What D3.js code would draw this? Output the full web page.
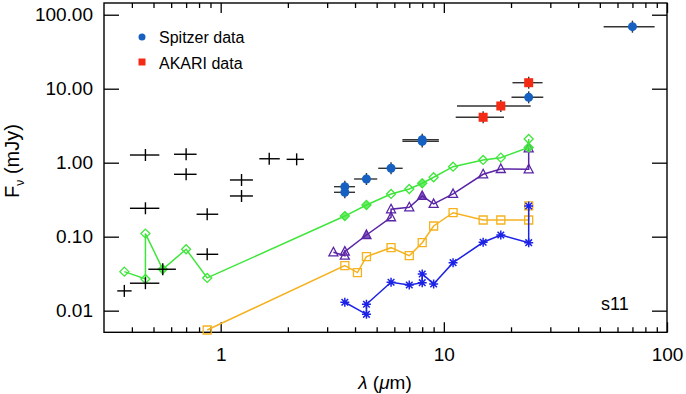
<!DOCTYPE html>
<html>
<head>
<meta charset="utf-8">
<script src="https://cdn.jsdelivr.net/npm/d3@7"></script>
<style>
  body { margin: 0; background: #fff; }
  svg { display: block; font-family: "Liberation Sans", Arial, Helvetica, sans-serif; }
</style>
</head>
<body>
<svg width="686" height="394"></svg>
<script>
// optical / near-IR photometry (black crosses)
var optWave = [0.46, 0.70, 0.70, 0.46, 1.24, 1.24, 0.87, 0.87, 1.65, 2.19, 0.46, 0.55, 0.37];
var optFlux = [1.27, 1.30, 0.697, 0.242, 0.584, 0.355, 0.201, 0.0578, 1.13, 1.11, 0.0235, 0.0363, 0.0185];
var optLo   = [0.392, 0.618, 0.618, 0.392, 1.10, 1.10, 0.78, 0.78, 1.49, 1.975, 0.392, 0.474, 0.344];
var optHi   = [0.531, 0.78, 0.78, 0.531, 1.395, 1.395, 0.975, 0.975, 1.84, 2.36, 0.531, 0.63, 0.399];

// Spitzer
var spWave = [3.6, 3.6, 4.5, 5.8, 8.0, 8.0, 24, 70];
var spFlux = [0.474, 0.398, 0.602, 0.84, 1.94, 2.04, 7.65, 68.9];
var spLo   = [3.22, 3.22, 3.96, 5.08, 6.52, 6.52, 20.1, 52];
var spHi   = [4.0, 4.0, 5.03, 6.54, 9.5, 9.5, 27.9, 88];

// AKARI
var akWave = [15, 18, 24];
var akFlux = [4.11, 5.84, 12.05];
var akLo   = [11.3, 11.45, 20.3];
var akHi   = [18.6, 24.5, 27.7];

// model curves
var gWave = [0.37, 0.46, 0.46, 0.55, 0.70, 0.87, 3.6, 4.5, 5.8, 7, 8, 9, 11, 15, 18, 24, 24];
var gFlux = [0.0337, 0.0268, 0.110, 0.0363, 0.0676, 0.0277, 0.19, 0.268, 0.378, 0.441, 0.527, 0.635, 0.883, 1.09, 1.17, 1.61, 2.09];
var gSolid = [3, 6, 7, 10, 15];

var pWave = [3.2, 3.6, 3.6, 4.5, 5.8, 5.8, 7, 8, 9, 11, 15, 18, 24, 24];
var pFlux = [0.0615, 0.0553, 0.0627, 0.1054, 0.183, 0.2345, 0.2496, 0.355, 0.2767, 0.378, 0.697, 0.822, 0.814, 1.566];
var pSolid = [3, 7];

var oWave = [0.87, 3.6, 4.1, 4.5, 5.8, 7, 8, 9, 11, 15, 18, 24, 24];
var oFlux = [0.00548, 0.0406, 0.0327, 0.0537, 0.071, 0.0553, 0.083, 0.1395, 0.211, 0.168, 0.168, 0.168, 0.26];

var bWave = [3.6, 4.5, 4.5, 5.8, 7, 8, 8, 9, 11, 15, 18, 24, 24];
var bFlux = [0.013, 0.00893, 0.0122, 0.0242, 0.0222, 0.0239, 0.0313, 0.023, 0.0445, 0.084, 0.1054, 0.083, 0.26];

var yTicks = [0.01, 0.1, 1, 10, 100];
var xTicks = [1, 10, 100];
var xMinor = [0.4,0.5,0.6,0.7,0.8,0.9,2,3,4,5,6,7,8,9,20,30,40,50,60,70,80,90];

var margin = {left:104, right:19, top:3, bottom:62};
var width = 686, height = 394;
var svg = d3.select("svg");

var x = d3.scaleLog().domain([0.3, 100]).range([margin.left, width - margin.right]);
var y = d3.scaleLog().domain([0.0051, 144]).range([height - margin.bottom + 0.3, margin.top]);
var x0 = margin.left, x1 = width - margin.right, y0 = height - margin.bottom + 0.3, y1 = margin.top;

function zip(w, f) { return w.map(function(d, i) { return {w: d, f: f[i], i: i}; }); }

// axes
svg.append("g").attr("transform", "translate(0," + y0 + ")")
  .call(d3.axisBottom(x).tickValues(xTicks).tickSize(-10).tickPadding(15).tickFormat(d3.format("d")));
svg.append("g").attr("transform", "translate(0," + y0 + ")")
  .call(d3.axisBottom(x).tickValues(xMinor).tickSize(-5).tickFormat(""));
svg.append("g").attr("transform", "translate(0," + y1 + ")")
  .call(d3.axisTop(x).tickValues(xTicks).tickSize(-10).tickFormat(""));
svg.append("g").attr("transform", "translate(0," + y1 + ")")
  .call(d3.axisTop(x).tickValues(xMinor).tickSize(-5).tickFormat(""));
svg.append("g").attr("transform", "translate(" + x0 + ",0)")
  .call(d3.axisLeft(y).tickValues(yTicks).tickSize(-15).tickPadding(11).tickFormat(d3.format(".2f")));
svg.append("g").attr("transform", "translate(" + x1 + ",0)")
  .call(d3.axisRight(y).tickValues(yTicks).tickSize(-15).tickFormat(""));

svg.selectAll(".domain").remove();
svg.selectAll(".tick line").attr("stroke", "#000").attr("stroke-width", 1.3);
svg.selectAll(".tick text").attr("font-size", 19).attr("fill", "#000").attr("font-family", null);

svg.append("rect").attr("x", x0).attr("y", y1).attr("width", x1 - x0).attr("height", y0 - y1)
  .attr("fill", "none").attr("stroke", "#000").attr("stroke-width", 1.4);

// axis titles
var yt = svg.append("text").attr("transform", "translate(19,161) rotate(-90)")
  .attr("text-anchor", "middle").attr("font-size", 20);
yt.append("tspan").text("F");
yt.append("tspan").attr("font-size", 12).attr("dy", 5).text("\u03bd");
yt.append("tspan").attr("dy", -5).text(" (mJy)");

var xt = svg.append("text").attr("x", 385).attr("y", 389).attr("text-anchor", "middle").attr("font-size", 19);
xt.append("tspan").attr("font-style", "italic").text("\u03bb");
xt.append("tspan").text(" (");
xt.append("tspan").attr("font-style", "italic").text("\u03bc");
xt.append("tspan").text("m)");

svg.append("text").attr("x", 601).attr("y", 310).attr("font-size", 18).text("s11");

// model lines
var line = d3.line().x(function(d) { return x(d.w); }).y(function(d) { return y(d.f); });
var models = [
  {data: zip(oWave, oFlux), color: "#f5b21e", shape: "square", solid: []},
  {data: zip(bWave, bFlux), color: "#1c22e6", shape: "star", solid: []},
  {data: zip(pWave, pFlux), color: "#5a24a6", shape: "triangle", solid: pSolid},
  {data: zip(gWave, gFlux), color: "#3ee63a", shape: "diamond", solid: gSolid}
];

function markerPath(shape) {
  if (shape === "square") return "M-4,-4H4V4H-4Z";
  if (shape === "diamond") return "M0,-4.5L4.5,0L0,4.5L-4.5,0Z";
  if (shape === "triangle") return "M0,-5L4.5,3.5H-4.5Z";
  return "M-4.5,0H4.5M0,-4.5V4.5M-3.3,-3.3L3.3,3.3M-3.3,3.3L3.3,-3.3";
}

models.forEach(function(m) {
  svg.append("path").datum(m.data).attr("d", line)
    .attr("fill", "none").attr("stroke", m.color).attr("stroke-width", 1.5);
  svg.selectAll(null).data(m.data).enter().append("path")
    .attr("transform", function(d) { return "translate(" + x(d.w) + "," + y(d.f) + ")"; })
    .attr("d", markerPath(m.shape))
    .attr("fill", m.color)
    .attr("fill-opacity", function(d) { return m.solid.indexOf(d.i) >= 0 ? 0.75 : 0; })
    .attr("stroke", m.color).attr("stroke-width", m.shape === "star" ? 1.5 : 1.3);
});

// error-bar crosses
function crosses(w, f, lo, hi, color) {
  var g = svg.append("g").attr("stroke", color).attr("stroke-width", 1.4);
  var data = w.map(function(d, i) { return {w: d, f: f[i], lo: lo[i], hi: hi[i]}; });
  g.selectAll(null).data(data).enter().append("line")
    .attr("x1", function(d) { return x(d.lo); }).attr("x2", function(d) { return x(d.hi); })
    .attr("y1", function(d) { return y(d.f); }).attr("y2", function(d) { return y(d.f); });
  g.selectAll(null).data(data).enter().append("line")
    .attr("x1", function(d) { return x(d.w); }).attr("x2", function(d) { return x(d.w); })
    .attr("y1", function(d) { return y(d.f) - 6; }).attr("y2", function(d) { return y(d.f) + 6; });
  return data;
}

crosses(optWave, optFlux, optLo, optHi, "#000");
var sp = crosses(spWave, spFlux, spLo, spHi, "#333");
var ak = crosses(akWave, akFlux, akLo, akHi, "#333");

svg.selectAll(null).data(sp).enter().append("circle")
  .attr("cx", function(d) { return x(d.w); }).attr("cy", function(d) { return y(d.f); })
  .attr("r", 4.5).attr("fill", "#1560c0");
svg.selectAll(null).data(ak).enter().append("rect")
  .attr("x", function(d) { return x(d.w) - 4.5; }).attr("y", function(d) { return y(d.f) - 4.5; })
  .attr("width", 9).attr("height", 9).attr("fill", "#f52a14");

// legend
svg.append("circle").attr("cx", 142).attr("cy", 37).attr("r", 3.5).attr("fill", "#1560c0");
svg.append("text").attr("x", 159).attr("y", 43).attr("font-size", 16).text("Spitzer data");
svg.append("rect").attr("x", 138.5).attr("y", 58.5).attr("width", 7).attr("height", 7).attr("fill", "#f52a14");
svg.append("text").attr("x", 159).attr("y", 69).attr("font-size", 16).text("AKARI data");
</script>
</body>
</html>
